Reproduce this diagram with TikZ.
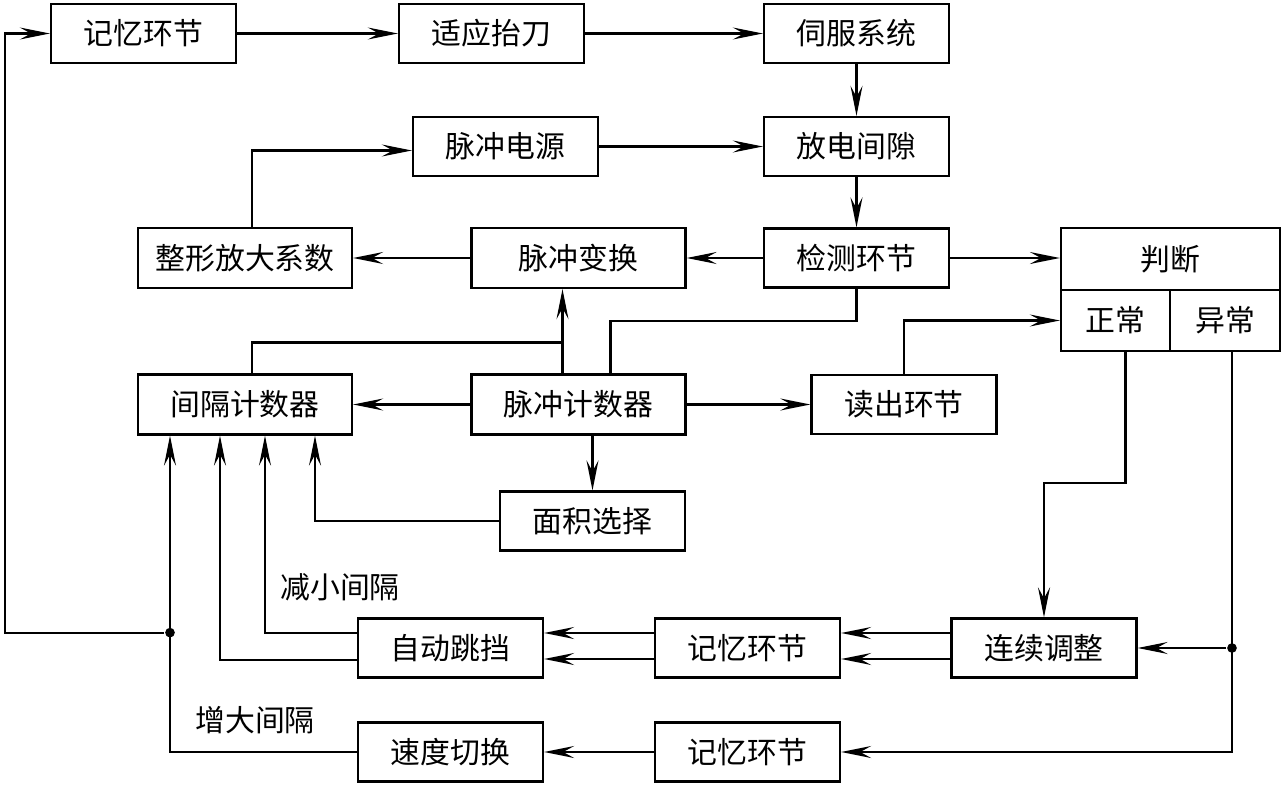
\documentclass[tikz,border=0pt]{standalone}
\usepackage{fontspec}
\setmainfont{Noto Sans CJK SC}
\usetikzlibrary{arrows.meta, calc}

\tikzset{
  blk/.style={draw, line width=1.3pt, minimum width=3.7cm, minimum height=1.18cm, inner sep=0pt, font=\fontsize{17pt}{20pt}\selectfont},
  wblk/.style={blk, minimum width=4.28cm, minimum height=1.2cm},
  lbl/.style={font=\fontsize{17pt}{20pt}\selectfont, inner sep=0pt},
  arr/.style={-{Stealth[length=6mm, width=2.4mm, inset=2.2mm]}},
  dot/.style={circle, fill, inner sep=0pt, minimum size=5.5pt},
}

\begin{document}
\begin{tikzpicture}[x=0.02cm, y=-0.02cm, line width=1.3pt]
		\useasboundingbox (0,0) rectangle (1282,785);
		% boxes
		\node[blk] (mem1) at (143.5, 33.5) {记忆环节};
		\node[blk] (adapt) at (491.5, 33.5) {适应抬刀};
		\node[blk] (servo) at (856.5, 33.5) {伺服系统};
		\node[blk] (psrc) at (505.5, 146.5) {脉冲电源};
		\node[blk] (gap) at (856.5, 146.5) {放电间隙};
		\node[wblk] (shape) at (245, 258) {整形放大系数};
		\node[wblk] (pconv) at (578.5, 258) {脉冲变换};
		\node[blk] (detect) at (856.5, 258) {检测环节};
		\node[blk, minimum width=4.38cm, minimum height=1.24cm] (judge) at (1170.5, 259) {判断};
		\node[blk, minimum width=2.18cm, minimum height=1.22cm] (zc) at (1115.5, 320.5) {正常};
		\node[blk, minimum width=2.2cm, minimum height=1.22cm] (yc) at (1225, 320.5) {异常};
		\node[wblk] (itv) at (245, 404.5) {间隔计数器};
		\node[wblk] (pcnt) at (578.5, 404.5) {脉冲计数器};
		\node[blk] (readout) at (904, 404.5) {读出环节};
		\node[blk] (area) at (592.5, 521) {面积选择};
		\node[blk] (auto) at (450.5, 648) {自动跳挡};
		\node[blk] (mem2) at (747.5, 648) {记忆环节};
		\node[blk] (contadj) at (1044, 648) {连续调整};
		\node[blk] (speed) at (450.5, 752) {速度切换};
		\node[blk] (mem3) at (747.5, 752) {记忆环节};
		% labels
		\node[lbl] (dec) at (340, 587) {减小间隔};
		\node[lbl] (inc) at (255, 720) {增大间隔};
		% dots
		\node[dot] (dotl) at ($(itv.south)+(-75,197)$) {};
		\coordinate (ycd) at ($(yc.south)+(7,0)$);
		\node[dot] (dotr) at (ycd |- contadj.east) {};
		% top chain
		\draw[arr] (mem1) -- (adapt);
		\draw[arr] (adapt) -- (servo);
		\draw[arr] (servo) -- (gap);
		\draw[arr] (psrc) -- (gap);
		\draw[arr] (gap) -- (detect);
		\draw[arr] (detect) -- (pconv);
		\draw[arr] (pconv) -- (shape);
		\draw[arr] ($(shape.north)+(7,0)$) |- ($(psrc.west)+(0,4)$);
		\draw[arr] (detect) -- (judge.west |- detect);
		% counters
		\draw (detect.south) -- ++(0,32) -| ($(pcnt.north)+(32,0)$);
		\draw[arr] ($(pcnt.north)+(-16,0)$) -- ($(pconv.south)+(-16,0)$);
		\draw ($(pcnt.north)+(-16,-31)$) -| ($(itv.north)+(7,0)$);
		\draw[arr] (pcnt) -- (itv);
		\draw[arr] (pcnt) -- (readout);
		\draw[arr] (pcnt.south -| area.north) -- (area.north);
		\draw[arr] (readout.north) |- (zc.west);
		\draw[arr] (area.west) -| ($(itv.south)+(70,0)$);
		% judgement
		\draw[arr] ($(zc.south)+(10,0)$) -- ++(0,131) -| (contadj.north);
		\draw[arr] (ycd) |- (mem3.east);
		\draw[arr] (dotr) -- (contadj.east |- dotr);
		\draw[arr] ($(contadj.west)+(0,-15)$) -- ($(mem2.east)+(0,-15)$);
		\draw[arr] ($(contadj.west)+(0,11)$) -- ($(mem2.east)+(0,11)$);
		\draw[arr] ($(mem2.west)+(0,-15)$) -- ($(auto.east)+(0,-15)$);
		\draw[arr] ($(mem2.west)+(0,11)$) -- ($(auto.east)+(0,11)$);
		\draw[arr] ($(auto.west)+(0,-15)$) -| ($(itv.south)+(20,0)$);
		\draw[arr] ($(auto.west)+(0,12)$) -| ($(itv.south)+(-25,0)$);
		\draw[arr] (mem3) -- (speed);
		\draw[arr] (speed.west) -| ($(itv.south)+(-75,0)$);
		\draw[arr] (dotl) -- ++(-165,0) |- (mem1.west);
	\end{tikzpicture}
\end{document}
